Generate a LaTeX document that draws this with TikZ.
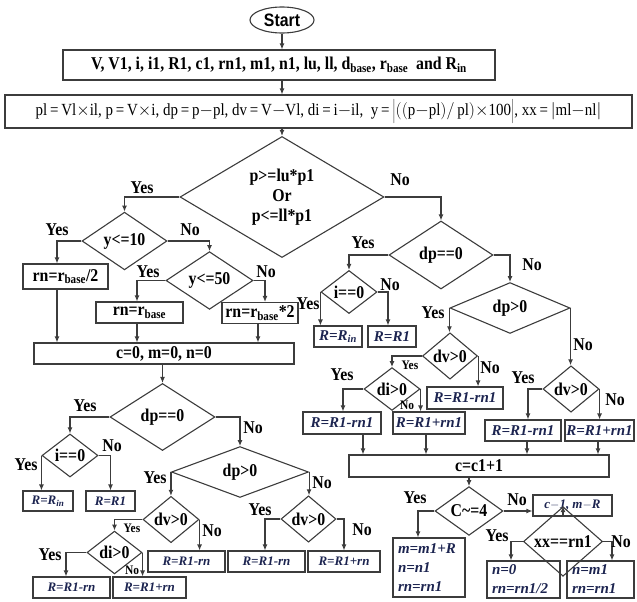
\documentclass[tikz,border=0pt]{standalone}
\usepackage{fontspec}
\setmainfont{Liberation Serif}[FakeStretch=0.88]
\newfontfamily\itfam{Liberation Serif}
\newfontfamily\sansfam{Liberation Sans}[FakeStretch=0.88]
\usetikzlibrary{shapes.geometric,arrows.meta}
\definecolor{linec}{RGB}{60,60,60}
\definecolor{navy}{RGB}{28,36,80}
\begin{document}
\begin{tikzpicture}[x=1pt,y=-1pt,
  bfont/.style={font=\bfseries\fontsize{18}{20}\selectfont},
  line/.style={draw=linec,line width=1.1pt},
  arr/.style={line,-{Latex[length=6pt,width=5pt]}},
  box/.style={rectangle,draw=linec,line width=1.1pt,inner sep=0pt,bfont},
  ibox/.style={rectangle,draw=linec,line width=1.1pt,inner sep=0pt,text=navy,font=\itfam\bfseries\itshape\fontsize{15}{19}\selectfont},
  iboxs/.style={ibox,font=\itfam\bfseries\itshape\fontsize{13}{16}\selectfont},
  dia/.style={diamond,draw=linec,line width=1.1pt,inner sep=0pt,bfont},
  lab/.style={inner sep=0pt,bfont},
  slab/.style={inner sep=0pt,font=\bfseries\fontsize{13}{15}\selectfont}]
\useasboundingbox (0,0) rectangle (637,602);

% top
\node[ellipse,draw=linec,line width=1.1pt,minimum width=64pt,minimum height=26pt,inner sep=0pt,
  font=\sansfam\bfseries\fontsize{18}{20}\selectfont] (start) at (282,20) {Start};
\node[box,minimum width=432pt,minimum height=30pt] (in1) at (279,65)
  {V, V1, i, i1, R1, c1, rn1, m1, n1, lu, ll, d\textsubscript{base}, r\textsubscript{base}\ \ and R\textsubscript{in}};
\node[box,minimum width=627pt,minimum height=33pt,font=\fontsize{17}{20}\selectfont] (in2) at (318.5,111.5)
  {pl\,=\,Vl$\times$il, p\,=\,V$\times$i, dp\,=\,p$-$pl, dv\,=\,V$-$Vl, di\,=\,i$-$il,\ \ y\,=\,$\bigg|\Big(\big($p$-$pl$\big)/$\,pl$\Big)\times$100$\bigg|$, xx\,=\,$\Big|$ml$-$nl$\Big|$};

% left part
\node[dia,minimum width=204pt,minimum height=114pt,align=center] (d1) at (282,197)
  {p>=lu*p1\\Or\\p<=ll*p1};
\node[dia,minimum width=85pt,minimum height=54pt] (d2) at (124.5,241) {y<=10};
\node[box,minimum width=85pt,minimum height=25pt] (bRn2) at (65.5,276.5) {rn=r\textsubscript{base}/2};
\node[dia,minimum width=87pt,minimum height=55pt] (d3) at (209.5,280.5) {y<=50};
\node[box,minimum width=87pt,minimum height=21pt] (bRnb) at (139.5,312.5) {rn=r\textsubscript{base}};
\node[box,minimum width=76pt,minimum height=21pt] (bRn2x) at (260,313) {rn=r\textsubscript{base}*2};
\node[box,minimum width=260pt,minimum height=21pt] (c0) at (164,353.5) {c=0, m=0, n=0};

\node[dia,minimum width=105pt,minimum height=67pt] (d4) at (162.5,417) {dp==0};
\node[dia,minimum width=56pt,minimum height=33pt] (d5) at (70,455.5) {i==0};
\node[iboxs,minimum width=50pt,minimum height=20pt] (bRinL) at (48,501) {R=R\textsubscript{in}};
\node[iboxs,minimum width=49pt,minimum height=20pt] (bR1L) at (110.5,501) {R=R1};
\node[dia,minimum width=137pt,minimum height=32pt] (d6) at (240,472) {dp>0};
\node[dia,minimum width=56pt,minimum height=31pt] (d7) at (171,519.5) {dv>0};
\node[dia,minimum width=55pt,minimum height=31pt] (d8) at (114.5,552.5) {di>0};
\node[iboxs,minimum width=77pt,minimum height=21pt] (bA) at (71.5,587.5) {R=R1-rn};
\node[iboxs,minimum width=73pt,minimum height=21pt] (bB) at (149.5,587.5) {R=R1+rn};
\node[iboxs,minimum width=77pt,minimum height=21pt] (bC) at (186.5,561.5) {R=R1-rn};
\node[dia,minimum width=55pt,minimum height=31pt] (d9) at (308.5,519) {dv>0};
\node[iboxs,minimum width=77pt,minimum height=21pt] (bD) at (266.5,561.5) {R=R1-rn};
\node[iboxs,minimum width=72pt,minimum height=21pt] (bE) at (344,561.5) {R=R1+rn};

% right part
\node[dia,minimum width=104pt,minimum height=68pt] (d10) at (441,255) {dp==0};
\node[dia,minimum width=56pt,minimum height=32pt] (d11) at (349,292) {i==0};
\node[ibox,minimum width=48pt,minimum height=21pt] (bRinR) at (338,336.5) {R=R\textsubscript{in}};
\node[ibox,minimum width=48pt,minimum height=21pt] (bR1R) at (392,336.5) {R=R1};
\node[dia,minimum width=120pt,minimum height=32pt] (d12) at (510,308) {dp>0};
\node[dia,minimum width=55pt,minimum height=33pt] (d13) at (450,356) {dv>0};
\node[dia,minimum width=56pt,minimum height=32pt] (d14) at (392,389) {di>0};
\node[ibox,minimum width=78pt,minimum height=22pt] (bF) at (342,423) {R=R1-rn1};
\node[ibox,minimum width=72pt,minimum height=22pt] (bG) at (429,423) {R=R1+rn1};
\node[ibox,minimum width=76pt,minimum height=22pt] (bH) at (465,398) {R=R1-rn1};
\node[dia,minimum width=56pt,minimum height=34pt] (d15) at (571,389) {dv>0};
\node[ibox,minimum width=76pt,minimum height=21pt] (bI) at (523,430.5) {R=R1-rn1};
\node[ibox,minimum width=69pt,minimum height=21pt] (bJ) at (599.5,430.5) {R=R1+rn1};
\node[box,minimum width=260pt,minimum height=22pt] (cc) at (479,466) {c=c1+1};
\node[dia,minimum width=68pt,minimum height=34pt] (d16) at (469,511) {C\char`~=4};
\node[ibox,minimum width=72pt,minimum height=59pt,text width=62pt,inner xsep=5pt,align=left] (bK) at (429,567.5)
  {m=m1+R\\n=n1\\rn=rn1};
\node[ibox,minimum width=79pt,minimum height=21pt,font=\itfam\bfseries\itshape\fontsize{13}{15}\selectfont] (bL) at (572.5,505.5) {c$-$1, m$-$R};
\node[dia,minimum width=79pt,minimum height=31pt] (d17) at (563,541.5) {xx==rn1};
\node[ibox,minimum width=73pt,minimum height=37pt,text width=63pt,inner xsep=5pt,align=left] (bM) at (523.5,579.5)
  {n=0\\rn=rn1/2};
\node[ibox,minimum width=67pt,minimum height=37pt,text width=57pt,inner xsep=5pt,align=left] (bN) at (600.5,579.5)
  {n=m1\\rn=rn1};

% connectors
\draw[arr] (start.south) -- (start.south |- in1.north);
\draw[arr] (in1.south -| start.south) -- (in2.north -| start.south);
\draw[arr] (in2.south -| d1.north) -- (d1.north);
\draw[arr] (d1.west) -| (d2.north);
\draw[arr] (d1.east) -| (d10.north);
\draw[arr] (d2.west) -| ([xshift=-8.5pt]bRn2.north);
\draw[arr] (d2.east) -| (d3.north);
\draw[arr] (d3.west) -| ([xshift=-2.5pt]bRnb.north);
\draw[arr] (d3.east) -| ([xshift=5pt]bRn2x.north);
\draw[arr] ([xshift=-8.5pt]bRn2.south) -- ([xshift=-8.5pt]bRn2.south |- c0.north);
\draw[arr] ([xshift=-2.5pt]bRnb.south) -- ([xshift=-2.5pt]bRnb.south |- c0.north);
\draw[arr] ([xshift=-2pt]bRn2x.south) -- ([xshift=-2pt]bRn2x.south |- c0.north);
\draw[arr] (c0.south -| d4.north) -- (d4.north);
\draw[arr] (d4.west) -| (d5.north);
\draw[arr] (d4.east) -| (d6.north);
\draw[arr] (d5.west) -- (d5.west |- bRinL.north);
\draw[arr] (d5.east) -| (bR1L.north);
\draw[arr] (d6.west) -- (d6.west |- d7.north);
\draw[arr] (d6.east) -- (d6.east |- d9.north);
\draw[arr] (d7.west) -| (d8.north);
\draw[arr] (d7.east) -- (d7.east |- bC.north);
\draw[arr] (d8.west) -| ([xshift=-5.5pt]bA.north);
\draw[arr] (d8.east) -- (d8.east |- bB.north);
\draw[arr] (d9.west) -| ([xshift=-1.5pt]bD.north);
\draw[arr] (d9.east) -| (bE.north);
\draw[arr] (d10.west) -| (d11.north);
\draw[arr] (d10.east) -| (d12.north);
\draw[arr] (d11.west) -- (d11.west |- bRinR.north);
\draw[arr] (d11.east) -| ([xshift=-4pt]bR1R.north);
\draw[arr] (d12.west) -- (d12.west |- d13.north);
\draw[arr] (d12.east) -- (d12.east |- d15.north);
\draw[arr] (d13.west) -| (d14.north);
\draw[arr] (d13.east) -- (d13.east |- bH.north);
\draw[arr] (d14.west) -| ([xshift=1pt]bF.north);
\draw[arr] (d14.east) -- (d14.east |- bG.north);
\draw[arr] (d15.west) -| ([xshift=5pt]bI.north);
\draw[arr] (d15.east) -- (d15.east |- bJ.north);
\draw[arr] ([xshift=21pt]bF.south) -- ([xshift=21pt]bF.south |- cc.north);
\draw[arr] ([xshift=-3pt]bG.south) -- ([xshift=-3pt]bG.south |- cc.north);
\draw[arr] ([xshift=4pt]bI.south) -- ([xshift=4pt]bI.south |- cc.north);
\draw[arr] ([xshift=-1.5pt]bJ.south) -- ([xshift=-1.5pt]bJ.south |- cc.north);
\draw[arr] (cc.south -| d16.north) -- (d16.north);
\draw[arr] (d16.west) -| ([xshift=-11pt]bK.north);
\draw[arr] (d16.east) -- (d16.east -| bL.west);
\draw[arr] (bL.south -| d17.north) -- (d17.north);
\draw[arr] (d17.west) -| ([xshift=-12.5pt]bM.north);
\draw[arr] (d17.east) -| ([xshift=11.5pt]bN.north);

% labels
\node[lab] (l1) at (142,188) {Yes};
\node[lab] (l2) at (400,180) {No};
\node[lab] (l3) at (57,230) {Yes};
\node[lab] (l4) at (190,230) {No};
\node[lab] (l5) at (148,272) {Yes};
\node[lab] (l6) at (266,272) {No};
\node[lab] (l7) at (85,406) {Yes};
\node[lab] (l8) at (253,428) {No};
\node[lab] (l9) at (26,465) {Yes};
\node[lab] (l10) at (112,446) {No};
\node[lab] (l11) at (155,478) {Yes};
\node[lab] (l12) at (322,483) {No};
\node[slab] (l13) at (132,528) {Yes};
\node[lab] (l14) at (212,531) {No};
\node[lab] (l15) at (50,555) {Yes};
\node[slab] (l16) at (132,570) {No};
\node[lab] (l17) at (260,510) {Yes};
\node[lab] (l18) at (362,530) {No};
\node[lab] (l19) at (363,243) {Yes};
\node[lab] (l20) at (532,265) {No};
\node[lab] (l21) at (308,304) {Yes};
\node[lab] (l22) at (390,285) {No};
\node[lab] (l23) at (433,313) {Yes};
\node[lab] (l24) at (583,345) {No};
\node[slab] (l25) at (410,365) {Yes};
\node[lab] (l26) at (490,368) {No};
\node[lab] (l27) at (342,375) {Yes};
\node[slab] (l28) at (407,405) {No};
\node[lab] (l29) at (523,378) {Yes};
\node[lab] (l30) at (615,400) {No};
\node[lab] (l31) at (415,498) {Yes};
\node[lab] (l32) at (517,500) {No};
\node[lab] (l33) at (497,536) {Yes};
\node[lab] (l34) at (621,542) {No};
\end{tikzpicture}
\end{document}
